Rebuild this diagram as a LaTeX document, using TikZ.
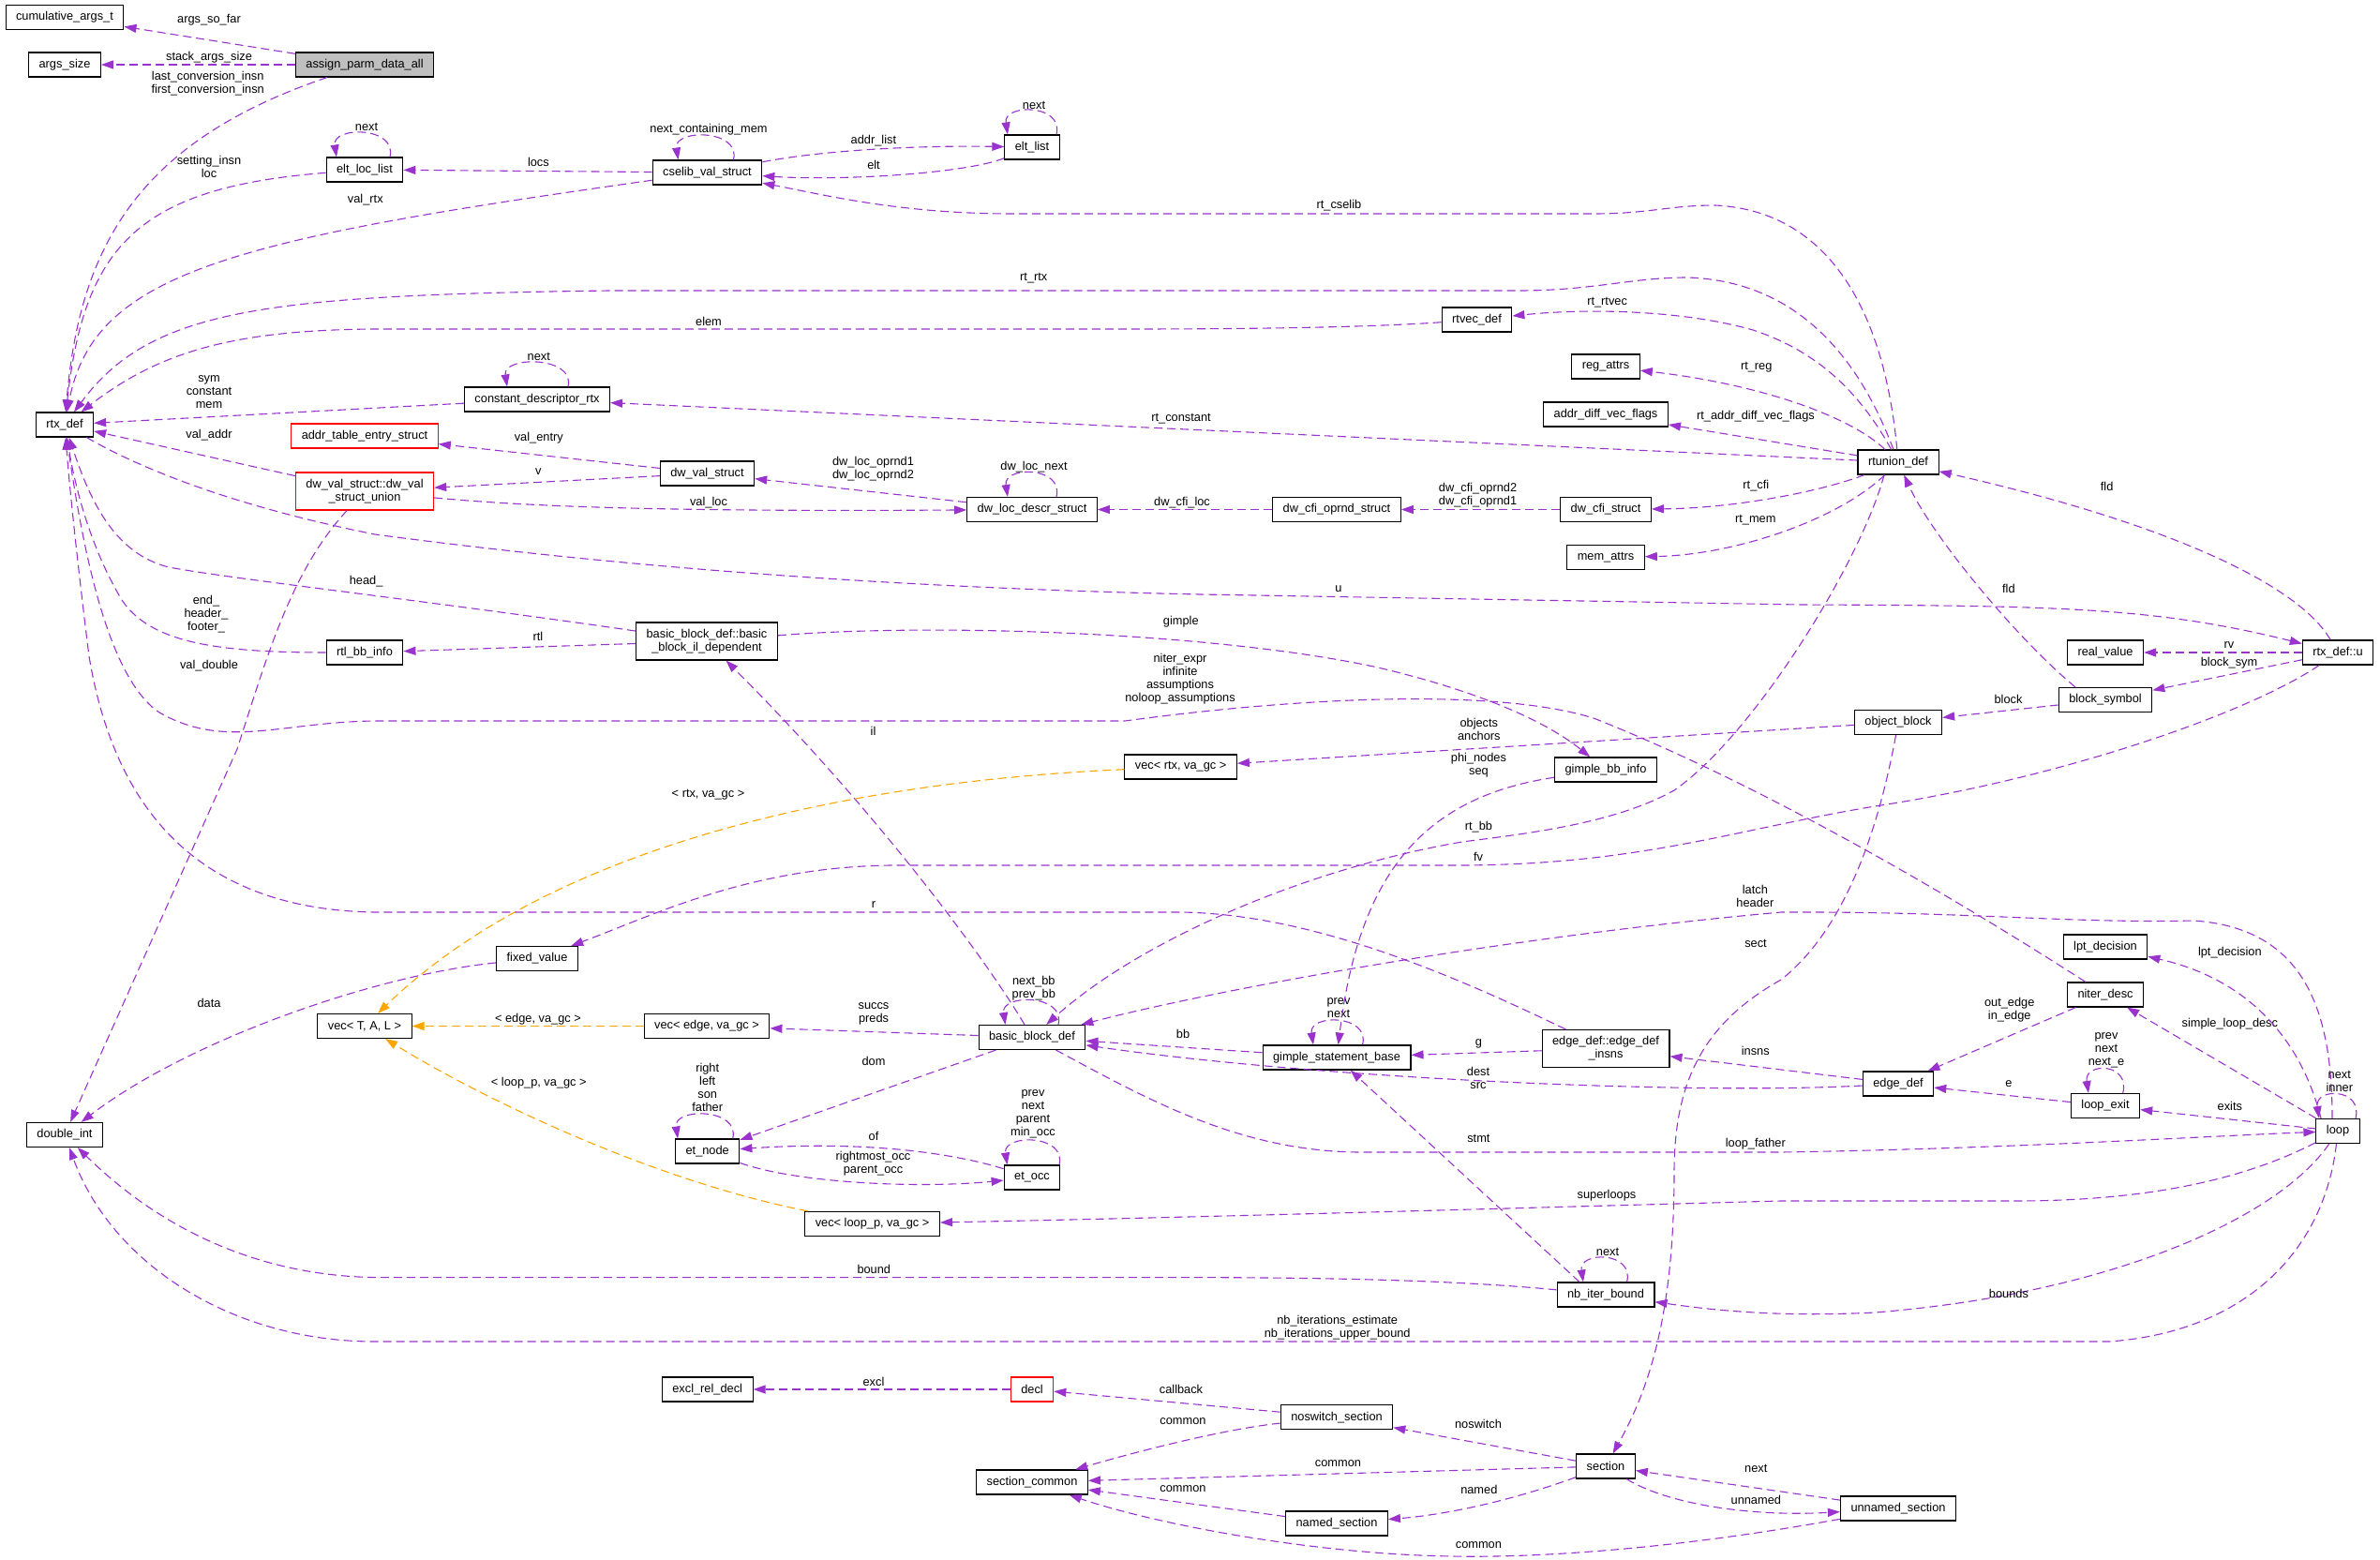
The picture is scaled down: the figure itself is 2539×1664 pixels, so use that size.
\documentclass[tikz,border=0pt]{standalone}
\usepackage{fontspec}
\setmainfont{Liberation Sans}
\usetikzlibrary{arrows.meta}
\definecolor{color_edge}{HTML}{9A32CD}
\definecolor{color_tmpl}{HTML}{FFA500}
\definecolor{color_root}{HTML}{BFBFBF}
\definecolor{color_bad}{HTML}{FF0000}
\definecolor{color_text}{HTML}{000000}
\newcommand{\doxfont}{\fontsize{12.8}{14}\selectfont}
\tikzset{
  dox_node/.style={draw=color_text, line width=1.1pt, fill=white, font=\doxfont, inner xsep=11pt, inner ysep=0pt, minimum height=26pt},
  dox_root/.style={dox_node, fill=color_root},
  dox_bad/.style={dox_node, draw=color_bad},
  dox_two/.style={align=center, minimum height=40pt},
  dox_label/.style={font=\doxfont, align=center, inner sep=0pt, text=color_text},
  dox_arrow/.style={-{Triangle[length=13pt, width=9pt]}, draw=color_edge, line width=1.1pt, dash pattern=on 9pt off 5pt},
  dox_tmpl_arrow/.style={dox_arrow, draw=color_tmpl},
}
\begin{document}
\begin{tikzpicture}[x=1pt, y=-1pt]
  \useasboundingbox (0,0) rectangle (2539,1664);

  \node[dox_node] (cumulative_args) at (69,18.4) {cumulative\_args\_t};
  \node[dox_node] (args_size) at (69,69) {args\_size};
  \node[dox_root] (assign_parm) at (389,69) {assign\_parm\_data\_all};
  \node[dox_node] (elt_loc_list) at (389,181) {elt\_loc\_list};
  \node[dox_node] (cselib_val) at (754.5,184) {cselib\_val\_struct};
  \node[dox_node] (elt_list) at (1101,157) {elt\_list};
  \node[dox_node] (rtx_def) at (69,453) {rtx\_def};
  \node[dox_node] (rtvec_def) at (1575.5,341) {rtvec\_def};
  \node[dox_node] (const_desc) at (573,426) {constant\_descriptor\_rtx};
  \node[dox_node] (reg_attrs) at (1713,391) {reg\_attrs};
  \node[dox_node] (addr_diff) at (1713,442) {addr\_diff\_vec\_flags};
  \node[dox_node] (rtunion_def) at (2025,493) {rtunion\_def};
  \node[dox_bad] (addr_table) at (389,465) {addr\_table\_entry\_struct};
  \node[dox_bad, dox_two] (dw_val_union) at (389,524) {dw\_val\_struct::dw\_val\\\_struct\_union};
  \node[dox_node] (dw_val) at (754.5,505) {dw\_val\_struct};
  \node[dox_node] (dw_loc_descr) at (1101,543.5) {dw\_loc\_descr\_struct};
  \node[dox_node] (dw_cfi_oprnd) at (1426,543.5) {dw\_cfi\_oprnd\_struct};
  \node[dox_node] (dw_cfi) at (1713,543.5) {dw\_cfi\_struct};
  \node[dox_node] (mem_attrs) at (1713,594.5) {mem\_attrs};
  \node[dox_node, dox_two] (bb_il_dep) at (754,684) {basic\_block\_def::basic\\\_block\_il\_dependent};
  \node[dox_node] (rtl_bb_info) at (389,696) {rtl\_bb\_info};
  \node[dox_node] (real_value) at (2246,696) {real\_value};
  \node[dox_node] (rtx_u) at (2494,696) {rtx\_def::u};
  \node[dox_node] (block_symbol) at (2246,746.5) {block\_symbol};
  \node[dox_node] (object_block) at (2025,770.5) {object\_block};
  \node[dox_node] (vec_rtx) at (1259.6,818) {vec< rtx, va\_gc >};
  \node[dox_node] (gimple_bb) at (1713,821) {gimple\_bb\_info};
  \node[dox_node] (lpt_decision) at (2246,1010) {lpt\_decision};
  \node[dox_node] (fixed_value) at (573,1022.5) {fixed\_value};
  \node[dox_node] (niter_desc) at (2246,1061) {niter\_desc};
  \node[dox_node] (vec_tal) at (389,1094.5) {vec< T, A, L >};
  \node[dox_node] (vec_edge) at (754,1094.5) {vec< edge, va\_gc >};
  \node[dox_node] (bb_def) at (1101,1106.5) {basic\_block\_def};
  \node[dox_node, dox_two] (edge_insns) at (1713,1118.5) {edge\_def::edge\_def\\\_insns};
  \node[dox_node] (gimple_base) at (1426,1128) {gimple\_statement\_base};
  \node[dox_node] (edge_def) at (2025,1156) {edge\_def};
  \node[dox_node] (loop_exit) at (2246,1179.5) {loop\_exit};
  \node[dox_node] (loop_s) at (2494,1206.5) {loop};
  \node[dox_node] (double_int) at (69,1210.5) {double\_int};
  \node[dox_node] (et_node) at (754.7,1228) {et\_node};
  \node[dox_node] (et_occ) at (1101,1256) {et\_occ};
  \node[dox_node] (vec_loop) at (930.6,1305.4) {vec< loop\_p, va\_gc >};
  \node[dox_node] (nb_iter) at (1713,1381) {nb\_iter\_bound};
  \node[dox_node] (excl_rel) at (754.7,1482) {excl\_rel\_decl};
  \node[dox_bad] (decl) at (1101,1482) {decl};
  \node[dox_node] (noswitch) at (1426,1511.7) {noswitch\_section};
  \node[dox_node] (section) at (1713,1564) {section};
  \node[dox_node] (sec_common) at (1101,1581) {section\_common};
  \node[dox_node] (unnamed) at (2025,1609) {unnamed\_section};
  \node[dox_node] (named) at (1426,1625) {named\_section};

  \draw[dox_arrow] (assign_parm) -- (cumulative_args) node[dox_label] at (223,20.7) {args\_so\_far};
  \draw[dox_arrow] (assign_parm) -- (args_size) node[dox_label] at (223,60.7) {stack\_args\_size};
  \draw[dox_arrow] (assign_parm) .. controls (150,150) and (85,260) .. (rtx_def) node[dox_label] at (221.7,89.5) {last\_conversion\_insn\\first\_conversion\_insn};
  \draw[dox_arrow] (elt_loc_list) .. controls (150,200) and (90,260) .. (rtx_def) node[dox_label] at (223,177.5) {setting\_insn\\loc};
  \draw[dox_arrow] ([xshift=27pt]elt_loc_list.north) .. controls +(8,-33) and +(-5,-33) .. ([xshift=-30pt]elt_loc_list.north) node[dox_label] at (391,135.7) {next};
  \draw[dox_arrow] (cselib_val) -- (elt_loc_list) node[dox_label] at (574.4,172.8) {locs};
  \draw[dox_arrow] (cselib_val) .. controls (250,255) and (100,290) .. (rtx_def) node[dox_label] at (389.8,212.8) {val\_rtx};
  \draw[dox_arrow] ([xshift=28pt]cselib_val.north) .. controls +(8,-33) and +(-5,-33) .. ([xshift=-31pt]cselib_val.north) node[dox_label] at (756,138.6) {next\_containing\_mem};
  \draw[dox_arrow] (cselib_val) .. controls (880,160) and (980,155) .. (elt_list) node[dox_label] at (931.9,150.3) {addr\_list};
  \draw[dox_arrow] (elt_list) .. controls (1030,185) and (900,193) .. (cselib_val) node[dox_label] at (932,176.4) {elt};
  \draw[dox_arrow] ([xshift=26pt]elt_list.north) .. controls +(8,-33) and +(-5,-33) .. ([xshift=-26pt]elt_list.north) node[dox_label] at (1103,112) {next};
  \draw[dox_arrow] (rtunion_def) .. controls (2010,330) and (1950,225) .. (1830,219) .. controls (1780,219) and (1760,228) .. (1700,228) -- (1080,228) .. controls (960,228) and (880,208) .. (cselib_val) node[dox_label] at (1428.4,219.6) {rt\_cselib};
  \draw[dox_arrow] (rtunion_def) .. controls (1990,400) and (1930,300) .. (1800,296) .. controls (1740,296) and (1700,310) .. (1620,310) -- (650,310) .. controls (280,315) and (160,330) .. (rtx_def) node[dox_label] at (1102.8,296.4) {rt\_rtx};
  \draw[dox_arrow] (rtvec_def) .. controls (1450,350) and (1300,351) .. (1200,351) -- (400,351) .. controls (250,352) and (170,375) .. (rtx_def) node[dox_label] at (756,342.8) {elem};
  \draw[dox_arrow] (rtunion_def) .. controls (1985,420) and (1940,375) .. (1870,352) .. controls (1800,332) and (1700,328) .. (rtvec_def) node[dox_label] at (1714.6,322.5) {rt\_rtvec};
  \draw[dox_arrow] (const_desc) -- (rtx_def) node[dox_label] at (223,418.3) {sym\\constant\\mem};
  \draw[dox_arrow] ([xshift=33pt]const_desc.north) .. controls +(8,-33) and +(-5,-33) .. ([xshift=-32pt]const_desc.north) node[dox_label] at (574.8,380.7) {next};
  \draw[dox_arrow] (rtunion_def) -- (const_desc) node[dox_label] at (1260,446.4) {rt\_constant};
  \draw[dox_arrow] (rtunion_def) .. controls (1975,445) and (1880,410) .. (reg_attrs) node[dox_label] at (1873.7,391.7) {rt\_reg};
  \draw[dox_arrow] (rtunion_def) -- (addr_diff) node[dox_label] at (1873,444.6) {rt\_addr\_diff\_vec\_flags};
  \draw[dox_arrow] (rtunion_def) .. controls (1940,525) and (1850,542) .. (dw_cfi) node[dox_label] at (1873.3,517.8) {rt\_cfi};
  \draw[dox_arrow] (rtunion_def) .. controls (1960,555) and (1850,592) .. (mem_attrs) node[dox_label] at (1872.8,554.2) {rt\_mem};
  \draw[dox_arrow] (dw_cfi) -- (dw_cfi_oprnd) node[dox_label] at (1576.5,528) {dw\_cfi\_oprnd2\\dw\_cfi\_oprnd1};
  \draw[dox_arrow] (dw_cfi_oprnd) -- (dw_loc_descr) node[dox_label] at (1261,535.7) {dw\_cfi\_loc};
  \draw[dox_arrow] (dw_loc_descr) -- (dw_val) node[dox_label] at (931.5,500.1) {dw\_loc\_oprnd1\\dw\_loc\_oprnd2};
  \draw[dox_arrow] ([xshift=26pt]dw_loc_descr.north) .. controls +(8,-33) and +(-5,-33) .. ([xshift=-26pt]dw_loc_descr.north) node[dox_label] at (1103,498) {dw\_loc\_next};
  \draw[dox_arrow] (dw_val_union) .. controls (560,540) and (700,546) .. (dw_loc_descr) node[dox_label] at (756,536.3) {val\_loc};
  \draw[dox_arrow] (dw_val) -- (addr_table) node[dox_label] at (574.8,467.5) {val\_entry};
  \draw[dox_arrow] (dw_val) -- (dw_val_union) node[dox_label] at (574.4,502.8) {v};
  \draw[dox_arrow] (dw_val_union) -- (rtx_def) node[dox_label] at (223,464.6) {val\_addr};
  \draw[dox_arrow] (dw_val_union) .. controls (310,610) and (285,700) .. (253,799) -- (double_int) node[dox_label] at (223,710.5) {val\_double};
  \draw[dox_arrow] (bb_il_dep) .. controls (450,640) and (250,618) .. (180,605) .. controls (120,590) and (95,530) .. (rtx_def) node[dox_label] at (390.6,620) {head\_};
  \draw[dox_arrow] (bb_il_dep) -- (rtl_bb_info) node[dox_label] at (574,678.7) {rtl};
  \draw[dox_arrow] (rtl_bb_info) .. controls (230,696) and (160,685) .. (130,640) .. controls (100,590) and (82,530) .. (rtx_def) node[dox_label] at (220,655.6) {end\_\\header\_\\footer\_};
  \draw[dox_arrow] (bb_il_dep) .. controls (1000,664) and (1300,675) .. (1470,712) .. controls (1580,738) and (1650,770) .. (gimple_bb) node[dox_label] at (1259.8,663) {gimple};
  \draw[dox_arrow] (bb_def) .. controls (1050,1020) and (930,860) .. (bb_il_dep) node[dox_label] at (931.5,779.7) {il};
  \draw[dox_arrow] (object_block) -- (vec_rtx) node[dox_label] at (1577.8,777.5) {objects\\anchors};
  \draw[dox_tmpl_arrow] (vec_rtx) .. controls (880,835) and (580,910) .. (vec_tal) node[dox_label] at (755.5,847.8) {< rtx, va\_gc >};
  \draw[dox_tmpl_arrow] (vec_edge) -- (vec_tal) node[dox_label] at (574,1086.7) {< edge, va\_gc >};
  \draw[dox_tmpl_arrow] (vec_loop) .. controls (700,1260) and (520,1175) .. (vec_tal) node[dox_label] at (574.8,1155) {< loop\_p, va\_gc >};
  \draw[dox_arrow] (bb_def) -- (vec_edge) node[dox_label] at (932,1081.8) {succs\\preds};
  \draw[dox_arrow] ([xshift=28pt]bb_def.north) .. controls +(8,-33) and +(-5,-33) .. ([xshift=-28.5pt]bb_def.north) node[dox_label] at (1102.8,1053.8) {next\_bb\\prev\_bb};
  \draw[dox_arrow] ([xshift=-15pt]rtunion_def.south) .. controls (1985,600) and (1870,785) .. (1786,843) .. controls (1720,880) and (1620,890) .. (1560,898) .. controls (1400,925) and (1220,1000) .. (bb_def) node[dox_label] at (1577.4,882) {rt\_bb};
  \draw[dox_arrow] (rtx_u) .. controls (2450,620) and (2300,555) .. (rtunion_def) node[dox_label] at (2247.6,518.9) {fld};
  \draw[dox_arrow] ([xshift=-32pt]block_symbol.north) .. controls (2150,680) and (2060,570) .. (rtunion_def) node[dox_label] at (2142.9,627.7) {fld};
  \draw[dox_arrow] (rtx_def) .. controls (150,500) and (250,540) .. (400,570) .. controls (700,610) and (1000,628) .. (1280,634) -- (1920,645) .. controls (2200,646) and (2300,648) .. (rtx_u) node[dox_label] at (1428,628) {u};
  \draw[dox_arrow] (rtx_u) -- (real_value) node[dox_label] at (2378,688) {rv};
  \draw[dox_arrow] (rtx_u) -- (block_symbol) node[dox_label] at (2378,707.2) {block\_sym};
  \draw[dox_arrow] (block_symbol) -- (object_block) node[dox_label] at (2142.5,746) {block};
  \draw[dox_arrow] (rtx_u) .. controls (2400,760) and (2200,830) .. (2000,860) .. controls (1850,885) and (1750,922) .. (1560,923) -- (950,923) .. controls (800,925) and (700,975) .. (fixed_value) node[dox_label] at (1577,914.3) {fv};
  \draw[dox_arrow] (object_block) .. controls (2005,880) and (1970,990) .. (1900,1045) .. controls (1820,1090) and (1786,1150) .. (1786,1250) .. controls (1786,1400) and (1760,1480) .. (section) node[dox_label] at (1873,1006.5) {sect};
  \draw[dox_arrow] ([xshift=-6pt]loop_s.north) .. controls (2488,1080) and (2460,990) .. (2340,982) .. controls (2200,985) and (2100,972) .. (1900,973) .. controls (1600,1000) and (1300,1055) .. (bb_def) node[dox_label] at (1872.4,955.6) {latch\\header};
  \draw[dox_arrow] (gimple_base) -- (bb_def) node[dox_label] at (1262,1103) {bb};
  \draw[dox_arrow] ([xshift=27.6pt]gimple_base.north) .. controls +(8,-33) and +(-5,-33) .. ([xshift=-25pt]gimple_base.north) node[dox_label] at (1428,1075) {prev\\next};
  \draw[dox_arrow] (gimple_bb) .. controls (1520,850) and (1450,930) .. (gimple_base) node[dox_label] at (1577.4,816) {phi\_nodes\\seq};
  \draw[dox_arrow] (edge_insns) -- (gimple_base) node[dox_label] at (1577.4,1113) {g};
  \draw[dox_arrow] (edge_def) -- (edge_insns) node[dox_label] at (1872.8,1120.9) {insns};
  \draw[dox_arrow] (edge_def) .. controls (1800,1168) and (1400,1150) .. (bb_def) node[dox_label] at (1577,1149.5) {dest\\src};
  \draw[dox_arrow] (niter_desc) -- (edge_def) node[dox_label] at (2143.7,1077.5) {out\_edge\\in\_edge};
  \draw[dox_arrow] (loop_s) -- (niter_desc) node[dox_label] at (2378.8,1092.3) {simple\_loop\_desc};
  \draw[dox_arrow] ([xshift=-18pt]loop_s.north) .. controls (2455,1110) and (2400,1045) .. (lpt_decision) node[dox_label] at (2378.8,1016.4) {lpt\_decision};
  \draw[dox_arrow] (loop_exit) -- (edge_def) node[dox_label] at (2142.9,1156.5) {e};
  \draw[dox_arrow] ([xshift=18.7pt]loop_exit.north) .. controls +(8,-33) and +(-5,-33) .. ([xshift=-18pt]loop_exit.north) node[dox_label] at (2247,1120) {prev\\next\\next\_e};
  \draw[dox_arrow] (loop_s) -- (loop_exit) node[dox_label] at (2378.8,1179.5) {exits};
  \draw[dox_arrow] ([xshift=19pt]loop_s.north) .. controls +(8,-33) and +(-5,-33) .. ([xshift=-20pt]loop_s.north) node[dox_label] at (2495.8,1153.8) {next\\inner};
  \draw[dox_arrow] (bb_def) .. controls (1220,1170) and (1320,1228) .. (1450,1229) -- (1900,1229) .. controls (2150,1225) and (2350,1212) .. (loop_s) node[dox_label] at (1872.8,1220.5) {loop\_father};
  \draw[dox_arrow] (loop_s) .. controls (2400,1255) and (2300,1281) .. (2150,1281) -- (1900,1281) .. controls (1600,1289) and (1300,1298) .. (vec_loop) node[dox_label] at (1714,1274.8) {superloops};
  \draw[dox_arrow] (loop_s) .. controls (2430,1300) and (2250,1380) .. (2000,1400) .. controls (1900,1405) and (1830,1398) .. (nb_iter) node[dox_label] at (2142.9,1380.2) {bounds};
  \draw[dox_arrow] (loop_s) .. controls (2480,1330) and (2400,1420) .. (2250,1431) -- (400,1431) .. controls (250,1431) and (120,1350) .. (double_int) node[dox_label] at (1426.7,1416) {nb\_iterations\_estimate\\nb\_iterations\_upper\_bound};
  \draw[dox_arrow] (nb_iter) .. controls (1550,1365) and (1400,1362.6) .. (1260,1362.6) -- (400,1362.6) .. controls (250,1360) and (150,1290) .. (double_int) node[dox_label] at (932.3,1354.3) {bound};
  \draw[dox_arrow] ([xshift=-28pt]nb_iter.north) -- (gimple_base) node[dox_label] at (1577.4,1214.4) {stmt};
  \draw[dox_arrow] ([xshift=22.6pt]nb_iter.north) .. controls +(8,-33) and +(-5,-33) .. ([xshift=-24pt]nb_iter.north) node[dox_label] at (1715,1335.6) {next};
  \draw[dox_arrow] (fixed_value) .. controls (400,1040) and (200,1110) .. (double_int) node[dox_label] at (223,1070) {data};
  \draw[dox_arrow] (bb_def) -- (et_node) node[dox_label] at (932,1132.4) {dom};
  \draw[dox_arrow] ([xshift=27pt]et_node.north) .. controls +(8,-33) and +(-5,-33) .. ([xshift=-31.6pt]et_node.north) node[dox_label] at (754.7,1160.3) {right\\left\\son\\father};
  \draw[dox_arrow] (et_occ) .. controls (1000,1225) and (900,1218) .. (et_node) node[dox_label] at (932,1211.5) {of};
  \draw[dox_arrow] (et_node) .. controls (850,1262) and (980,1268) .. (et_occ) node[dox_label] at (931.5,1241.5) {rightmost\_occ\\parent\_occ};
  \draw[dox_arrow] ([xshift=29pt]et_occ.north) .. controls +(8,-33) and +(-5,-33) .. ([xshift=-26.5pt]et_occ.north) node[dox_label] at (1102,1188.6) {prev\\next\\parent\\min\_occ};
  \draw[dox_arrow] (decl) -- (excl_rel) node[dox_label] at (932,1474.4) {excl};
  \draw[dox_arrow] (noswitch) -- (decl) node[dox_label] at (1260,1482.4) {callback};
  \draw[dox_arrow] (noswitch) .. controls (1300,1525) and (1200,1552) .. (sec_common) node[dox_label] at (1262,1516.5) {common};
  \draw[dox_arrow] (section) -- (sec_common) node[dox_label] at (1427.5,1560.8) {common};
  \draw[dox_arrow] (named) -- (sec_common) node[dox_label] at (1262,1588.5) {common};
  \draw[dox_arrow] (unnamed) .. controls (1800,1650) and (1650,1662) .. (1550,1660) .. controls (1400,1658) and (1230,1625) .. (sec_common) node[dox_label] at (1577.4,1647.8) {common};
  \draw[dox_arrow] (section) -- (noswitch) node[dox_label] at (1577,1519.4) {noswitch};
  \draw[dox_arrow] (section) .. controls (1620,1598) and (1550,1615) .. (named) node[dox_label] at (1577.8,1588.5) {named};
  \draw[dox_arrow] (section) .. controls (1780,1605) and (1870,1618) .. (unnamed) node[dox_label] at (1873.3,1599.6) {unnamed};
  \draw[dox_arrow] (unnamed) -- (section) node[dox_label] at (1873.3,1566.5) {next};
  \draw[dox_arrow] (edge_insns) .. controls (1550,1040) and (1400,975) .. (1260,973) -- (400,973) .. controls (200,970) and (120,850) .. (95,700) .. controls (85,620) and (75,530) .. (rtx_def) node[dox_label] at (932,964.6) {r};
  \draw[dox_arrow] (niter_desc) .. controls (2120,980) and (1900,845) .. (1700,766) .. controls (1600,735) and (1400,742) .. (1200,769) -- (400,769) .. controls (300,770) and (240,800) .. (170,760) .. controls (110,720) and (85,560) .. (rtx_def) node[dox_label] at (1259,724.6) {niter\_expr\\infinite\\assumptions\\noloop\_assumptions};
\end{tikzpicture}
\end{document}
